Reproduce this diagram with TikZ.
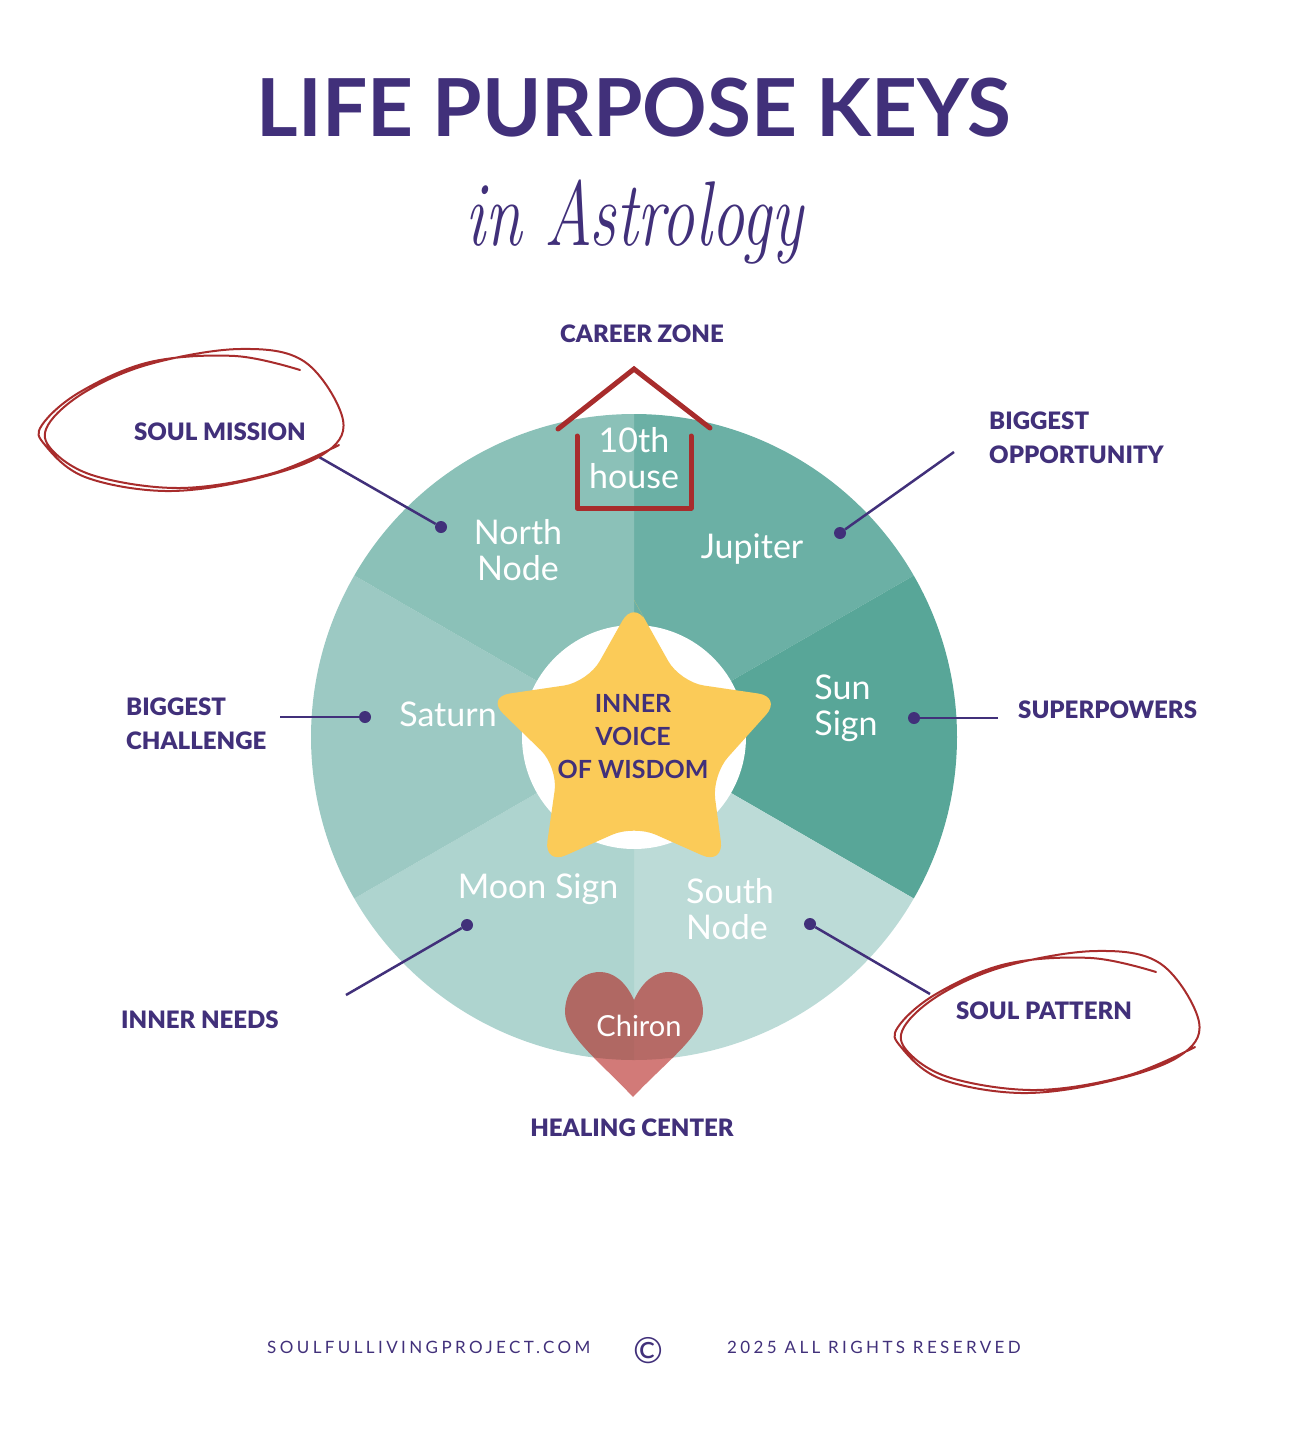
\documentclass[tikz,border=0pt]{standalone}
\usepackage{fontspec}
\setmainfont{Lato}
\newfontfamily\blackfont[UprightFont=* Black]{Lato}
\definecolor{deeppurple}{HTML}{41307A}
\definecolor{scribblered}{HTML}{A82C2C}
\definecolor{stargold}{HTML}{FBCB58}
\definecolor{chironred}{HTML}{B21A16}
\definecolor{jupiterteal}{HTML}{6BB0A5}
\definecolor{sunteal}{HTML}{58A698}
\definecolor{southteal}{HTML}{BCDBD7}
\definecolor{moonteal}{HTML}{AED4CF}
\definecolor{saturnteal}{HTML}{9CC9C3}
\definecolor{northteal}{HTML}{8BC1B8}
\tikzset{
  planet/.style={white, inner sep=0, align=center, font=\fontsize{34}{36}\selectfont},
  keylabel/.style={deeppurple, inner sep=0, align=left, font=\blackfont\fontsize{24}{34}\selectfont},
  footer/.style={deeppurple, inner sep=0, anchor=west, font=\fontsize{17}{20}\selectfont\addfontfeature{LetterSpace=20}},
  keydot/.style={circle, fill=deeppurple, inner sep=0, minimum size=12pt},
  leader/.style={deeppurple, line width=2.5pt},
  roof/.style={scribblered, line width=5pt, line cap=round}
}
\begin{document}
\begin{tikzpicture}[x=1pt, y=-1pt]
    \useasboundingbox (0,0) rectangle (1290,1440);

    % Titre
    \node[deeppurple, inner sep=0, font=\bfseries\fontsize{80}{84}\selectfont] (title) at (634,108) {LIFE PURPOSE KEYS};
    \node[deeppurple, inner sep=0, font=\fontsize{92}{96}\selectfont] (subtitle) at (634,222)
        {\scalebox{.72}[1]{\fontfamily{lmr}\itshape in Astrology}};

    % Roue
    \coordinate (hub) at (634,737);
    \foreach \start/\col in {30/jupiterteal, -30/sunteal, -90/southteal, -150/moonteal, 150/saturnteal, 90/northteal} {
        \fill[\col] (hub) -- ++(\start:323pt) arc[start angle=\start, delta angle=60, radius=323pt] -- cycle;
    }
    \fill[white] (hub) circle[radius=112pt];

    % Etoile
    \fill[stargold] (634,600) [rounded corners=24pt] -- (680,682) [rounded corners=24pt] -- (782,697)
        -- (712,775) -- (724,865) -- (634,825) -- (544,865) -- (558,767) -- (486,697) -- (588,682) -- (634,600) -- (680,682);
    \node[deeppurple, inner sep=0, align=center, font=\bfseries\fontsize{25}{33}\selectfont] (star) at (633,737)
        {INNER\\VOICE\\OF WISDOM};

    % Coeur
    \fill[chironred, opacity=.58] (634,1000) .. controls (625,980) and (612,972) .. (600,972)
        .. controls (578,972) and (565,992) .. (565,1012) .. controls (565,1035) and (600,1062) .. (633,1097)
        .. controls (666,1062) and (703,1035) .. (703,1012) .. controls (703,992) and (690,972) .. (668,972)
        .. controls (656,972) and (643,980) .. (634,1000) -- cycle;

    % Maison
    \draw[roof] (558,429) -- (634,369) -- (710,428);
    \draw[roof, line join=round] (577,436) -- (577,508) -- (691,508) -- (691,436);

    % Planetes
    \node[planet] (house) at (634,458) {10th\\house};
    \node[planet] (north) at (518,550) {North\\Node};
    \node[planet] (jupiter) at (752,549) {Jupiter};
    \node[planet, align=left] (sun) at (846,708) {Sun\\Sign};
    \node[planet] (saturn) at (448,714) {Saturn};
    \node[planet] (moon) at (538,889) {Moon Sign};
    \node[planet, align=left] (south) at (730,909) {South\\Node};
    \node[planet, font=\fontsize{29}{32}\selectfont] (chiron) at (639,1026) {Chiron};

    % Etiquettes
    \node[keylabel] (career) at (642,334) {CAREER ZONE};
    \node[keylabel] (mission) at (220,432) {SOUL MISSION};
    \node[keylabel, anchor=west] (opportunity) at (989,438) {BIGGEST\\OPPORTUNITY};
    \node[keylabel, anchor=west] (powers) at (1018,710) {SUPERPOWERS};
    \node[keylabel, anchor=west] (challenge) at (126,724) {BIGGEST\\CHALLENGE};
    \node[keylabel] (needs) at (200,1020) {INNER NEEDS};
    \node[keylabel] (pattern) at (1044,1011) {SOUL PATTERN};
    \node[keylabel] (healing) at (632,1128) {HEALING CENTER};

    % Traits et points
    \foreach \name/\dotx/\doty/\endx/\endy in {a/441/527/319/457, b/840/533/954/452, c/914/718/998/718,
        d/365/717/280/717, e/467/925/346/995, f/810/924/930/994} {
        \node[keydot] (dot\name) at (\dotx,\doty) {};
        \coordinate (tail\name) at (\endx,\endy);
        \draw[leader] (tail\name) -- (dot\name);
    }

    % Boucles rouges
    \foreach \sx/\sy in {0/0, 856/602} {
        \draw[scribblered, line width=2pt, line cap=round, shift={(\sx pt,-\sy pt)}] plot[smooth, tension=.6] coordinates {
            (339,445) (270,474) (180,488) (95,476) (52,450) (48,425) (85,392) (150,364) (240,349)
            (305,362) (343,420) (322,455) (250,480) (165,491) (85,477) (45,445) (42,425) (80,392) (150,362) (235,356) (300,370)};
    }

    % Pied de page
    \node[footer] (site) at (267,1347) {SOULFULLIVINGPROJECT.COM};
    \node[deeppurple, inner sep=0, font=\fontsize{36}{36}\selectfont] (copy) at (648,1351) {©};
    \node[footer] (rights) at (727,1347) {2025 ALL RIGHTS RESERVED};
\end{tikzpicture}
\end{document}
